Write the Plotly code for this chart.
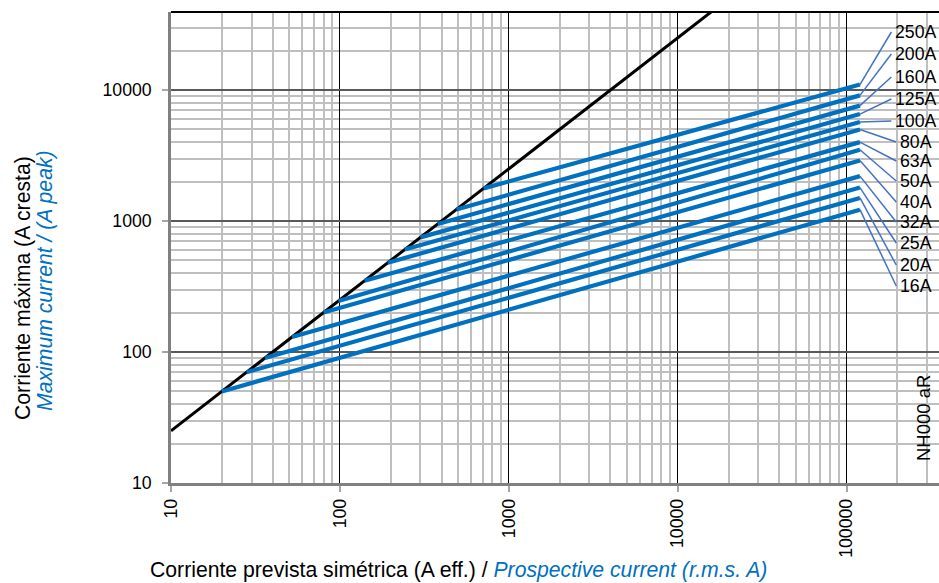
import plotly.graph_objects as go

# ---------------- data ----------------
ratings = ["16A", "20A", "25A", "32A", "40A", "50A", "63A", "80A", "100A", "125A", "160A", "200A", "250A"]
start_x = [20, 28, 36, 52, 80, 98, 140, 192, 242, 300, 380, 490, 710]
start_y = [50, 70, 90, 130, 200, 245, 350, 480, 605, 750, 950, 1225, 1775]
end_x = [120000] * 13
end_y = [1220, 1500, 1800, 2200, 2900, 3500, 4000, 5000, 5700, 6550, 7600, 9100, 11000]

limit_x = [10, 20000]      # unlimited peak current line (2.5 x I)
limit_y = [25, 50000]

x_ticks = [10, 100, 1000, 10000, 100000]
x_tick_text = ["10", "100", "1000", "10000", "100000"]
y_ticks = [10, 100, 1000, 10000]
y_tick_text = ["10", "100", "1000", "10000"]

# ---------------- layout geometry ----------------
W, H = 939, 583
ML, MR, MT, MB = 171, 0, 12, 100
PW, PH = W - ML - MR, H - MT - MB
XDEC, YDEC = 168.9, 131.0           # pixels per decade
XR = [1, 1 + PW / XDEC]
YR = [1, 1 + PH / YDEC]

def px_to_x(px):
    return 10 ** (XR[0] + (px - ML) / PW * (XR[1] - XR[0]))

def py_to_y(py):
    return 10 ** (YR[0] + (H - MB - py) / PH * (YR[1] - YR[0]))

def px_paper(px):
    return (px - ML) / PW

def py_paper(py):
    return (H - MB - py) / PH

FONT = "Liberation Sans, Arial, sans-serif"
FS = 17.7
FT = 21.2
BLUE = "#0070C0"
LEADER = "#4472C4"

# label layout (pixel centres)
label_cx = 916
label_cy = [286, 265, 243, 222, 202, 181, 161, 142, 121, 99, 77, 54, 32]

fig = go.Figure()

# limit line
fig.add_trace(go.Scatter(x=limit_x, y=limit_y, mode="lines",
                         line=dict(color="black", width=3),
                         hoverinfo="skip", showlegend=False))

# fuse curves
for i, r in enumerate(ratings):
    fig.add_trace(go.Scatter(x=[start_x[i], end_x[i]], y=[start_y[i], end_y[i]],
                             mode="lines", line=dict(color=BLUE, width=4.2),
                             name=r, showlegend=False))

# leader lines + labels
annotations = []
for i, r in enumerate(ratings):
    tw = (len(r) - 1) * 0.556 * FS + 0.667 * FS
    lx = label_cx - tw / 2 - 4
    ly = label_cy[i]
    fig.add_trace(go.Scatter(x=[end_x[i], px_to_x(lx)], y=[end_y[i], py_to_y(ly)],
                             mode="lines", line=dict(color=LEADER, width=1.5),
                             hoverinfo="skip", showlegend=False, cliponaxis=False))
    annotations.append(dict(text=r, xref="paper", yref="paper",
                            x=px_paper(label_cx), y=py_paper(ly),
                            xanchor="center", yanchor="middle", showarrow=False,
                            font=dict(family=FONT, size=FS, color="black")))

# axis titles
annotations.append(dict(
    text="Corriente prevista simétrica (A eff.) / <i><span style='color:%s'>Prospective current (r.m.s. A)</span></i>" % BLUE,
    xref="paper", yref="paper", x=px_paper(458.5), y=py_paper(570),
    xanchor="center", yanchor="middle", showarrow=False,
    font=dict(family=FONT, size=FT, color="black")))
annotations.append(dict(
    text="Corriente máxima (A cresta)", textangle=-90,
    xref="paper", yref="paper", x=px_paper(23), y=py_paper(288),
    xanchor="center", yanchor="middle", showarrow=False,
    font=dict(family=FONT, size=FT, color="black")))
annotations.append(dict(
    text="<i>Maximum current / (A peak)</i>", textangle=-90,
    xref="paper", yref="paper", x=px_paper(45), y=py_paper(281),
    xanchor="center", yanchor="middle", showarrow=False,
    font=dict(family=FONT, size=FT, color=BLUE)))
annotations.append(dict(
    text="NH000 aR", textangle=-90,
    xref="paper", yref="paper", x=px_paper(923), y=py_paper(418),
    xanchor="center", yanchor="middle", showarrow=False,
    font=dict(family=FONT, size=18.5, color="black")))

minor_x = [k * 10 ** d for d in range(1, 6) for k in range(2, 10)]
minor_y = [k * 10 ** d for d in range(1, 5) for k in range(2, 10)]

shapes = [
    # white box behind the rating labels
    dict(type="rect", xref="paper", yref="paper", layer="between",
         x0=px_paper(885), x1=1.02, y0=py_paper(297), y1=py_paper(22),
         fillcolor="white", line=dict(width=0)),
    # white box behind the fuse type
    dict(type="rect", xref="paper", yref="paper", layer="between",
         x0=px_paper(905), x1=1.02, y0=py_paper(478), y1=py_paper(358),
         fillcolor="white", line=dict(width=0)),
    # top border
    dict(type="line", xref="paper", yref="paper", layer="above",
         x0=0, x1=1, y0=1, y1=1, line=dict(color="black", width=2)),
]

fig.update_layout(
    width=W, height=H,
    margin=dict(l=ML, r=MR, t=MT, b=MB),
    paper_bgcolor="white", plot_bgcolor="white",
    showlegend=False,
    font=dict(family=FONT, size=FS, color="black"),
    annotations=annotations,
    shapes=shapes,
    xaxis=dict(type="log", range=XR, tickmode="array", tickvals=x_ticks, ticktext=x_tick_text,
               tickangle=-90, ticks="outside", ticklen=6, tickwidth=2, tickcolor="#A6A6A6",
               showline=True, linecolor="#808080", linewidth=2.5,
               showgrid=True, gridcolor="black", gridwidth=1.2,
               minor=dict(tickvals=minor_x, showgrid=True, gridcolor="#BFBFBF", gridwidth=1.5, ticks=""),
               zeroline=False, tickfont=dict(family=FONT, size=FS, color="black")),
    yaxis=dict(type="log", range=YR, tickmode="array", tickvals=y_ticks, ticktext=y_tick_text,
               ticks="outside", ticklen=6, tickwidth=2, tickcolor="#A6A6A6",
               showline=True, linecolor="#808080", linewidth=2.5,
               showgrid=True, gridcolor="#595959", gridwidth=1.8,
               minor=dict(tickvals=minor_y, showgrid=True, gridcolor="#BFBFBF", gridwidth=1.5, ticks=""),
               zeroline=False, ticklabelstandoff=7,
               tickfont=dict(family=FONT, size=FS, color="black")),
)

fig.write_html("out.html", config={"displayModeBar": False})
with open("out.html", encoding="utf-8") as f:
    html = f.read()
html = html.replace("<head>", "<head><style>html,body{margin:0;padding:0;overflow:hidden;}</style>", 1)
with open("out.html", "w", encoding="utf-8") as f:
    f.write(html)
